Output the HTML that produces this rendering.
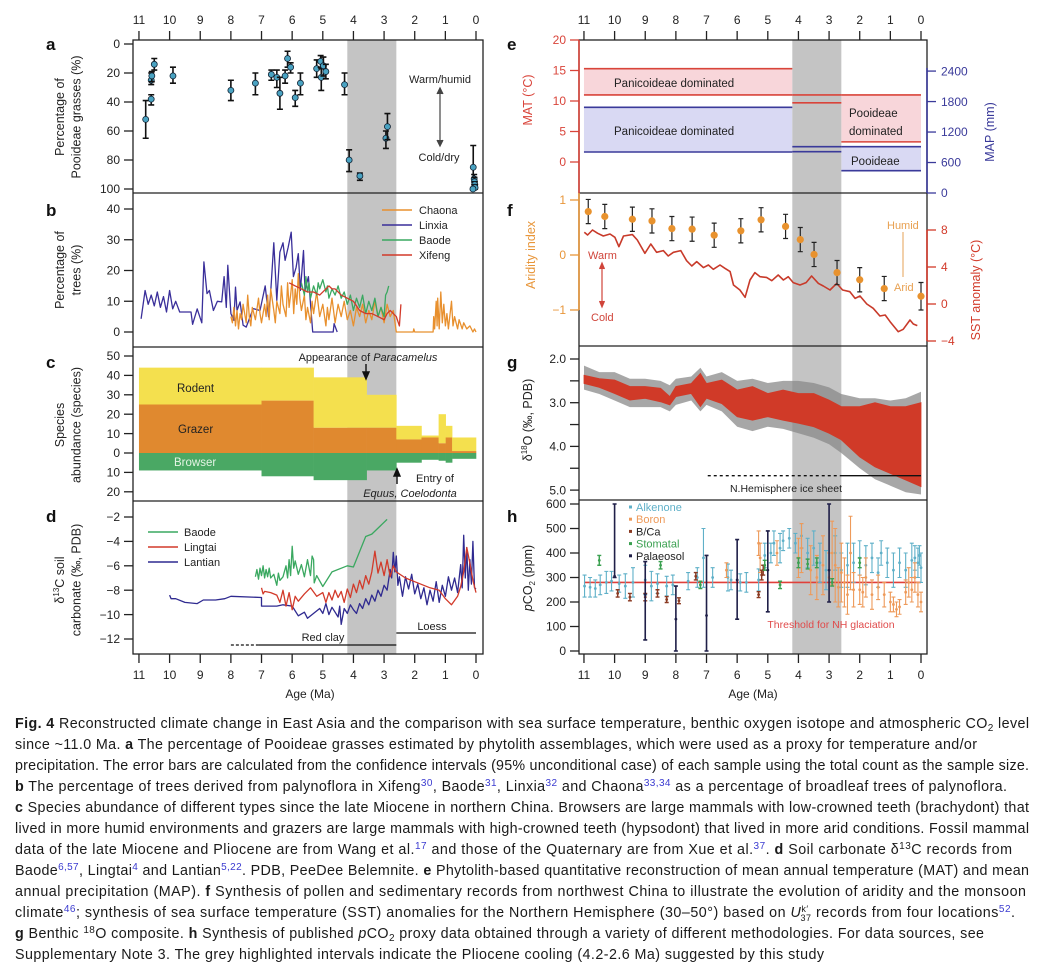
<!DOCTYPE html>
<html><head><meta charset="utf-8">
<style>
body{margin:0;background:#fff;}
svg{display:block;font-family:"Liberation Sans",sans-serif;}
.cap{font-size:14.3px;fill:#1a1a1a;}
.ref{fill:#3b3bd0;font-size:10px;}
</style></head>
<body>
<svg id="fig" width="1044" height="972" viewBox="0 0 1044 972">
<g id="chart"></g>
<g id="caption">
<text class="cap" x="15" y="728" textLength="1014" lengthAdjust="spacing"><tspan font-weight="bold">Fig. 4</tspan> Reconstructed climate change in East Asia and the comparison with sea surface temperature, benthic oxygen isotope and atmospheric CO<tspan font-size="10" dy="3">2</tspan><tspan dy="-3"> level</tspan></text>
<text class="cap" x="15" y="749" textLength="962" lengthAdjust="spacing">since ~11.0 Ma. <tspan font-weight="bold">a</tspan> The percentage of Pooideae grasses estimated by phytolith assemblages, which were used as a proxy for temperature and/or</text>
<text class="cap" x="15" y="770" textLength="1014" lengthAdjust="spacing">precipitation. The error bars are calculated from the confidence intervals (95% unconditional case) of each sample using the total count as the sample size.</text>
<text class="cap" x="15" y="791" textLength="992" lengthAdjust="spacing"><tspan font-weight="bold">b</tspan> The percentage of trees derived from palynoflora in Xifeng<tspan class="ref" dy="-5">30</tspan><tspan dy="5">, Baode</tspan><tspan class="ref" dy="-5">31</tspan><tspan dy="5">, Linxia</tspan><tspan class="ref" dy="-5">32</tspan><tspan dy="5"> and Chaona</tspan><tspan class="ref" dy="-5">33,34</tspan><tspan dy="5"> as a percentage of broadleaf trees of palynoflora.</tspan></text>
<text class="cap" x="15" y="812" textLength="1014" lengthAdjust="spacing"><tspan font-weight="bold">c</tspan> Species abundance of different types since the late Miocene in northern China. Browsers are large mammals with low-crowned teeth (brachydont) that</text>
<text class="cap" x="15" y="833" textLength="1014" lengthAdjust="spacing">lived in more humid environments and grazers are large mammals with high-crowned teeth (hypsodont) that lived in more arid conditions. Fossil mammal</text>
<text class="cap" x="15" y="854" textLength="997" lengthAdjust="spacing">data of the late Miocene and Pliocene are from Wang et al.<tspan class="ref" dy="-5">17</tspan><tspan dy="5"> and those of the Quaternary are from Xue et al.</tspan><tspan class="ref" dy="-5">37</tspan><tspan dy="5">. </tspan><tspan font-weight="bold">d</tspan> Soil carbonate δ<tspan font-size="10" dy="-5">13</tspan><tspan dy="5">C records from</tspan></text>
<text class="cap" x="15" y="875" textLength="1014" lengthAdjust="spacing">Baode<tspan class="ref" dy="-5">6,57</tspan><tspan dy="5">, Lingtai</tspan><tspan class="ref" dy="-5">4</tspan><tspan dy="5"> and Lantian</tspan><tspan class="ref" dy="-5">5,22</tspan><tspan dy="5">. PDB, PeeDee Belemnite. </tspan><tspan font-weight="bold">e</tspan> Phytolith-based quantitative reconstruction of mean annual temperature (MAT) and mean</text>
<text class="cap" x="15" y="896" textLength="1011" lengthAdjust="spacing">annual precipitation (MAP). <tspan font-weight="bold">f</tspan> Synthesis of pollen and sedimentary records from northwest China to illustrate the evolution of aridity and the monsoon</text>
<text class="cap" x="15" y="917" textLength="1000" lengthAdjust="spacing">climate<tspan class="ref" dy="-5">46</tspan><tspan dy="5">; synthesis of sea surface temperature (SST) anomalies for the Northern Hemisphere (30–50°) based on </tspan><tspan font-style="italic">U</tspan><tspan font-size="9" dy="-5">k′</tspan><tspan font-size="9" dx="-8" dy="9">37</tspan><tspan dy="-4"> records from four locations</tspan><tspan class="ref" dy="-5">52</tspan><tspan dy="5">.</tspan></text>
<text class="cap" x="15" y="938" textLength="969" lengthAdjust="spacing"><tspan font-weight="bold">g</tspan> Benthic <tspan font-size="10" dy="-5">18</tspan><tspan dy="5">O composite. </tspan><tspan font-weight="bold">h</tspan> Synthesis of published <tspan font-style="italic">p</tspan>CO<tspan font-size="10" dy="3">2</tspan><tspan dy="-3"> proxy data obtained through a variety of different methodologies. For data sources, see</tspan></text>
<text class="cap" x="15" y="959" textLength="809" lengthAdjust="spacing">Supplementary Note 3. The grey highlighted intervals indicate the Pliocene cooling (4.2-2.6 Ma) suggested by this study</text>
</g>
</svg>
<script>
// ---------------- DATA ----------------
// panel a: Pooideae %
const aAge=[10.78,10.6,10.6,10.58,10.5,9.89,8.0,7.2,6.68,6.5,6.4,6.23,6.15,6.05,5.9,5.73,5.2,5.07,5.05,4.98,4.9,4.29,4.14,3.79,2.94,2.89,0.09,0.06,0.05,0.04,0.03,0.1];
const aVal=[52,38,25,22,14,22,32,27,21,23,34,22,10,16,37,27,17,12,23,15,19,28,80,91,65,57,85,93,95,97,99,100];
const aLo=[39,35,20,19,10,16,25,20,18,18,23,18,5,13,32,20,11,8,17,9,14,20,73,89,60,48,70,90,92,95,97,99];
const aHi=[65,42,28,26,18,27,39,35,25,30,45,27,16,20,43,35,23,16,32,22,24,35,88,94,72,66,100,97,99,100,100,100];
// panel b: trees %
const linxiaAge=[10.93,10.8,10.7,10.6,10.5,10.4,10.3,10.2,10.1,10.0,9.9,9.8,9.67,9.3,9.25,9.1,8.95,8.88,8.78,8.7,8.57,8.44,8.3,8.22,8.15,8.1,8.0,7.9,7.85,7.8,7.7,7.6,7.5,7.27,7.05,6.88,6.77,6.7,6.6,6.5,6.4,6.3,6.23,6.13,6.03,5.96,5.87,5.8,5.73,5.63,5.58,5.47,5.4,5.33,4.66,4.63,4.53];
const linxiaVal=[4.3,13.5,9,12,8.5,13,8,11.5,6.5,13.5,7.5,10,6.5,6.5,2.5,7.5,3,22.8,12.5,13.5,7,10,9.8,18,8,21.7,6,3.8,14.6,7,9.8,2.2,1.6,7.6,7,15,4.9,13,29,10.3,26,29,23.3,27.6,32.5,18,21,25.5,13.5,26.5,13.5,18,9.2,0,0,2.7,0];
const chaonaAge=[8.0,7.95,7.9,7.85,7.8,7.75,7.7,7.65,7.6,7.5,7.45,7.4,7.35,7.3,7.2,7.1,7.05,7.0,6.9,6.85,6.8,6.75,6.7,6.6,6.55,6.5,6.4,6.35,6.3,6.2,6.15,6.1,6.05,6.0,5.95,5.9,5.85,5.8,5.75,5.7,5.6,5.55,5.5,5.4,5.35,5.3,5.2,5.1,5.0,4.9,4.85,4.8,4.7,4.6,4.5,4.4,4.3,4.2,4.1,4.0,3.9,3.8,3.7,3.6,3.5,3.4,3.3,3.2,3.1,3.0,2.9,2.8,2.7,2.6,2.05,2.03,2.0,1.4,1.38,1.35,1.3,1.27,1.25,1.2,1.15,1.1,1.05,1.0,0.95,0.9,0.8,0.75,0.7,0.6,0.55,0.45,0.4,0.3,0.2,0.1,0.05,0];
const chaonaVal=[5,3,8,2,7,1,6,4,9,3,12,5,2,8,4,11,6,3,9,5,12,4,14,7,3,10,6,15,9,5,16,8,12,17,6,14,9,19,11,7,12,4,8,3,10,6,13,5,9,2,8,4,11,3,9,5,10,4,7,2,8,5,9,3,7,4,10,5,8,3,9,5,7,0,0,1,0,0,5,1,10,2,11,1,13,3,9,2,6,1,10,2,5,1,4,1,3,1,2,0,1,0];
const baodeBAge=[5.7,5.6,5.55,5.5,5.45,5.4,5.3,5.2,5.15,5.1,5.0,4.9,4.85,4.8,4.7,4.6,4.5,4.4,4.3,4.2,4.1,4.0,3.9,3.8,3.7,3.6,3.5,3.4,3.3,3.2,3.1,3.0,2.95,2.9,2.85];
const baodeBVal=[16,12,18,13,16,11,15,12,16,14,17,13,15,11,14,12,15,11,13,9,12,7,11,8,12,6,10,7,11,5,8,5,12,13,15];
const xifengAge=[6.1,5.9,5.7,5.5,5.3,5.1,4.9,4.8,4.7,4.6,4.4,4.2,4.0,3.8,3.6,3.4,3.2,3.0,2.9,2.8,2.7,2.6,2.5,2.45];
const xifengVal=[16,15,14,13,13,12,14,15,14,14,12,11,10,7,6,6,5,4,6,7,6,5,2,9];
// panel c: species abundance per interval
const cStart=[11,7,5.3,3.57,2.6,1.78,1.22,0.99,0.78];
const cEnd=[7,5.3,3.57,2.6,1.78,1.22,0.99,0.78,0];
const cGrazer=[25,27,13,13,7,8,5,8,1];
const cRodent=[19,17,26,17,7,1,15,6,7];
const cBrowser=[9,12,14,9,5,3.5,4,5,3];
// panel d: d13C
const lantianAge=[10,9.95,9.8,9.5,9.1,8.9,8.5,8.2,8.0,7.0,7.0,6.5,6.3,6.0,5.8,5.6,5.5,5.3,5.1,5.0,4.9,4.8,4.7,4.6,4.5,4.45,4.4,4.3,4.2,4.1,4.0,3.9,3.8,3.7,3.6,3.5,3.4,3.3,3.2,3.1,3.0,2.9,2.8,2.75,2.7,2.65,2.6,2.55,2.5,2.4,2.3,2.2,2.1,2.0,1.9,1.8,1.7,1.6,1.5,1.4,1.3,1.2,1.1,1.0,0.9,0.8,0.7,0.6,0.5,0.45,0.4,0.35,0.3,0.25,0.2,0.15,0.1,0.05,0];
const lantianVal=[-8.4,-8.7,-8.7,-9.0,-9.1,-8.8,-8.8,-8.7,-8.5,-8.6,-9.3,-9.3,-9.2,-9.3,-10.1,-9.8,-10.3,-9.9,-9.5,-9.9,-9.1,-10.0,-9.4,-9.8,-10.2,-9.3,-10.8,-9.5,-9.9,-9.2,-9.6,-9.9,-9.1,-9.5,-8.7,-9.2,-8.4,-8.9,-8.0,-8.5,-7.6,-8.0,-6.3,-7.0,-4.9,-6.5,-5.2,-7.6,-6.9,-8.5,-6.9,-7.9,-6.7,-8.3,-7.5,-8.7,-7.8,-9.2,-8.0,-8.9,-7.3,-9.0,-7.6,-8.5,-6.9,-8.0,-7.0,-8.2,-5.9,-7.8,-3.5,-7.0,-4.5,-8.0,-5.5,-7.5,-4.0,-7.8,-7.9];
const lingtaiAge=[7.0,6.95,6.9,6.7,6.5,6.4,6.3,6.2,6.1,6.0,5.9,5.8,5.6,5.4,5.2,5.0,4.9,4.8,4.7,4.6,4.5,4.4,4.3,4.2,4.1,4.0,3.9,3.8,3.7,3.6,3.5,3.4,3.3,3.2,3.1,3.0,2.9,2.8,2.7,2.6,2.3,2.0,1.5,1.2,1.0,0.8,0.6,0.5,0.4,0.3,0.2,0.1,0];
const lingtaiVal=[-7.8,-8.3,-8.1,-8.2,-8.4,-9.0,-8.0,-9.3,-8.2,-9.6,-8.5,-8.9,-8.3,-7.8,-8.5,-8.2,-9.0,-8.2,-8.8,-8.0,-8.6,-8.1,-9.0,-7.9,-8.6,-7.5,-8.2,-7.2,-7.9,-6.8,-7.5,-6.5,-4.8,-6.6,-5.7,-6.8,-5.5,-6.9,-6.0,-6.5,-7.0,-7.3,-7.8,-8.0,-8.7,-9.2,-8.5,-7.7,-6.5,-4.5,-5.8,-7.2,-8.2];
const baodeDAge=[7.2,7.15,7.1,7.05,7.0,6.95,6.9,6.85,6.8,6.75,6.7,6.6,6.5,6.45,6.4,6.3,6.2,6.15,6.1,6.05,6.0,5.95,5.9,5.8,5.7,5.6,5.5,5.4,5.35,5.3,5.28,5.2,5.0,4.7,4.2,4.0,3.6,3.4,2.9];
const baodeDVal=[-6.9,-6.3,-7.1,-6.2,-6.8,-6.0,-7.0,-6.3,-6.9,-6.2,-7.0,-6.7,-7.6,-6.6,-7.2,-6.9,-6.0,-7.0,-5.5,-6.8,-4.4,-6.2,-5.6,-6.7,-5.9,-6.9,-5.5,-6.8,-5.2,-5.5,-7.4,-6.8,-7.7,-6.5,-6.0,-6.1,-3.6,-3.4,-2.2];
// panel e: MAT / MAP periods
const ePeriodStart=[11,4.2,2.6];
const ePeriodEnd=[4.2,2.6,0];
const eMatLo=[11,9.7,3.3];
const eMatHi=[15.3,11,11];
const eMapLo=[807,813,439];
const eMapHi=[1687,911,911];
// panel f: aridity index & SST anomaly
const fAridAge=[10.86,10.32,9.42,8.78,8.13,7.47,6.75,5.88,5.22,4.42,3.94,3.49,2.74,2.0,1.2,0];
const fAridVal=[0.79,0.70,0.65,0.62,0.48,0.47,0.36,0.44,0.64,0.52,0.28,0.01,-0.32,-0.45,-0.61,-0.75];
const fAridErr=[0.22,0.22,0.22,0.22,0.22,0.22,0.22,0.22,0.22,0.22,0.22,0.22,0.22,0.22,0.22,0.25];
const sstAge=[10.99,10.88,10.72,10.55,10.37,10.15,9.99,9.86,9.71,9.42,9.26,9.01,8.82,8.63,8.41,8.25,8.08,7.84,7.65,7.48,7.32,7.1,6.94,6.78,6.56,6.4,6.23,6.12,5.91,5.74,5.58,5.42,5.25,5.04,4.87,4.66,4.49,4.33,4.17,3.95,3.75,3.57,3.35,3.19,2.97,2.75,2.56,2.32,2.15,1.99,1.77,1.56,1.34,1.17,1.01,0.74,0.58,0.36,0.25,0.12];
const sstVal=[7.75,7.46,8.0,7.64,7.35,7.57,7.21,6.2,7.35,7.5,6.92,5.48,6.49,5.59,5.77,5.19,5.59,5.77,4.68,4.11,4.58,3.93,4.22,3.75,4.22,3.86,3.5,2.05,1.51,0.72,2.59,3.39,2.95,2.88,2.52,3.14,2.59,2.95,2.31,2.05,2.31,3.03,2.23,1.95,1.51,2.23,1.51,1.33,0.61,0.86,0,-0.47,-1.3,-1.19,-1.91,-2.99,-2.74,-1.73,-2.16,-2.34];
// panel g: benthic d18O envelopes
const gAge=[11,10.5,10,9.5,9,8.5,8.2,8,7.5,7.2,7,6.5,6,5.5,5,4.5,4,3.5,3,2.6,2,1.5,1,0.5,0];
const gRedLo=[2.37,2.45,2.48,2.63,2.63,2.67,2.86,2.63,2.56,2.33,2.56,2.48,2.71,2.63,2.79,2.71,2.79,2.79,2.94,3.09,3.09,3.0,3.09,3.09,3.0];
const gRedHi=[2.56,2.65,2.79,2.94,2.9,2.98,3.05,2.86,2.79,3.09,2.9,3.02,3.32,3.4,3.32,3.4,3.47,3.55,3.7,3.85,4.24,4.47,4.62,4.77,4.92];
const gGreyLo=[2.15,2.3,2.3,2.45,2.45,2.5,2.6,2.45,2.4,2.2,2.4,2.3,2.5,2.45,2.55,2.5,2.5,2.55,2.65,2.8,2.9,2.9,2.95,2.9,2.75];
const gGreyHi=[2.7,2.8,2.95,3.1,3.1,3.1,3.2,3.05,2.95,3.2,3.05,3.2,3.55,3.65,3.55,3.6,3.7,3.8,3.95,4.15,4.5,4.75,4.9,5.05,5.1];
// panel h: pCO2 proxies
const alkAge=[10.98,10.8,10.63,10.47,10.27,10.1,9.85,9.65,9.4,9.0,8.8,8.6,8.3,8.1,7.6,7.3,7.1,6.8,6.3,6.2,5.9,5.7,5.3,5.1,4.9,4.8,4.6,4.5,4.3,4.1,3.9,3.7,3.5,3.3,3.1,2.8,2.6,2.4,2.2,2.0,1.8,1.6,1.4,1.3,1.1,0.9,0.7,0.5,0.3,0.2,0.1,0.05,0];
const alkVal=[265,260,255,270,280,285,275,265,280,290,265,275,265,270,285,300,380,300,300,290,280,280,290,390,400,440,420,450,460,440,470,400,420,360,330,400,330,350,360,380,350,380,320,400,360,330,360,330,370,380,360,390,340];
const alkErr=[45,40,35,40,45,40,35,50,60,60,60,40,40,40,35,40,120,40,55,40,35,40,45,50,40,50,60,40,40,40,50,60,70,80,80,70,70,90,80,70,80,60,60,50,60,70,60,70,70,50,60,40,60];
const boronAge=[6.35,5.3,5.25,4.7,4.0,3.9,3.6,3.4,3.2,3.0,2.9,2.8,2.7,2.6,2.5,2.4,2.3,2.2,2.0,1.9,1.8,1.6,1.4,1.2,1.0,0.9,0.8,0.7,0.5,0.4,0.3,0.2,0.1,0];
const boronVal=[330,440,380,400,380,420,330,300,350,300,400,350,260,320,280,230,400,250,250,240,300,230,260,230,200,190,170,180,240,280,250,300,230,200];
const boronErr=[30,50,60,50,80,100,100,90,120,100,130,150,80,120,100,80,150,70,60,60,80,60,50,50,40,30,30,30,50,60,50,60,50,40];
const bcaAge=[9.9,9.5,9.0,8.6,8.3,7.9,7.35,5.3,5.2,5.15];
const bcaVal=[235,220,220,235,210,205,305,230,310,330];
const bcaErr=[15,15,15,15,12,12,15,12,20,20];
const stomAge=[10.5,8.5,7.2,5.1,4.6,4.0,3.7,3.4,2.9,2.0];
const stomVal=[370,350,270,350,270,360,355,360,280,360];
const stomErr=[20,15,15,20,15,20,20,20,15,20];
const palAge=[10.0,9.0,8.0,7.0,6.0,5.0,3.0];
const palVal=[305,230,130,145,290,330,330];
const palLo=[300,45,0,0,130,160,200];
const palHi=[600,365,265,390,455,490,600];
const co2Threshold=[280];
const ageTicks=[0,1,2,3,4,5,6,7,8,9,10,11];

// ---------------- SCALES ----------------
const xL=a=>476-a*30.64, xR=a=>921-a*30.64;
const yA=v=>44+v*1.45;
const yB=v=>332-v*3.075;
const yC=v=>453-v*1.94;
const yD=v=>517+(-2-v)*12.2;
const yET=t=>162-t*6.1, yEP=p=>193-p*0.0508;
const yFA=a=>255-a*55, yFS=s=>304-s*9.25;
const yG=v=>359+(v-2)*43.7;
const yH=v=>651-v*0.245;

const NS='http://www.w3.org/2000/svg';
const root=document.getElementById('chart');
function mk(tag,attrs){const e=document.createElementNS(NS,tag);for(const k in attrs)e.setAttribute(k,attrs[k]);root.appendChild(e);return e;}
function tx(str,attrs){const e=mk('text',attrs);e.textContent=str;return e;}
function lineD(ages,vals,xf,yf){return ages.map((a,i)=>(i?'L':'M')+xf(a).toFixed(1)+','+yf(vals[i]).toFixed(1)).join('');}
function bandD(ages,lo,hi,xf,yf){let d=ages.map((a,i)=>(i?'L':'M')+xf(a).toFixed(1)+','+yf(hi[i]).toFixed(1)).join('');for(let i=ages.length-1;i>=0;i--)d+='L'+xf(ages[i]).toFixed(1)+','+yf(lo[i]).toFixed(1);return d+'Z';}
let el;

// ---------- panel e fills (under grey) ----------
for(let i=0;i<ePeriodStart.length;i++){
  el=mk('rect',{x:xR(ePeriodStart[i]),y:yET(eMatHi[i]),width:xR(ePeriodEnd[i])-xR(ePeriodStart[i]),height:yET(eMatLo[i])-yET(eMatHi[i]),fill:'#f8d6da'});
  
  
  el=mk('rect',{x:xR(ePeriodStart[i]),y:yEP(eMapHi[i]),width:xR(ePeriodEnd[i])-xR(ePeriodStart[i]),height:yEP(eMapLo[i])-yEP(eMapHi[i]),fill:'#d9d9f3'});
  
  
}

// ---------- grey Pliocene cooling bands ----------
el=mk('rect',{x:xL(4.2),y:40,width:xL(2.6)-xL(4.2),height:614,fill:'#c4c4c4'});


el=mk('rect',{x:xR(4.2),y:40,width:xR(2.6)-xR(4.2),height:614,fill:'#c4c4c4'});



// ---------- panel e lines & labels ----------
for(let i=0;i<ePeriodStart.length;i++){
  const x1=xR(ePeriodStart[i]),x2=xR(ePeriodEnd[i]);
  [eMatLo[i],eMatHi[i]].forEach(v=>{
    el=mk('line',{x1:x1,x2:x2,y1:yET(v),y2:yET(v),stroke:'#d9443a','stroke-width':1.6});
    
    
  });
  [eMapLo[i],eMapHi[i]].forEach(v=>{
    el=mk('line',{x1:x1,x2:x2,y1:yEP(v),y2:yEP(v),stroke:'#3a3a9a','stroke-width':1.6});
    
    
  });
}
[['Panicoideae dominated',614,87],['Panicoideae dominated',614,135],['Pooideae',849,117],['dominated',849,135],['Pooideae',851,165]].forEach(t=>{
  el=tx(t[0],{x:t[1],y:t[2],'font-size':11.5,fill:'#222'});
  
  
});

// ---------- panel a ----------
aAge.forEach((a,i)=>{
  const x=xL(a);
  el=mk('path',{d:`M${x},${yA(aLo[i])}V${yA(aHi[i])}M${x-3},${yA(aLo[i])}h6M${x-3},${yA(aHi[i])}h6`,stroke:'#111','stroke-width':1.6,fill:'none'});
  
  
  el=mk('circle',{cx:x,cy:yA(aVal[i]),r:3,fill:'#4aa3c2',stroke:'#123',"stroke-width":0.8});
  
  
});
el=tx('Warm/humid',{x:440,y:83,'font-size':11,'text-anchor':'middle',fill:'#222'});


el=tx('Cold/dry',{x:439,y:161,'font-size':11,'text-anchor':'middle',fill:'#222'});


el=mk('path',{d:'M440,90V144M437,94L440,88L443,94M437,140L440,146L443,140',stroke:'#444','stroke-width':1.2,fill:'#444'});



// ---------- panel b ----------
[[linxiaAge,linxiaVal,'#3a2f9a','linxia-line'],[chaonaAge,chaonaVal,'#e8902e','chaona-line'],[baodeBAge,baodeBVal,'#3aa860','baode-tree-line'],[xifengAge,xifengVal,'#d23a2a','xifeng-line']].forEach(s=>{
  el=mk('path',{d:lineD(s[0],s[1],xL,yB),stroke:s[2],'stroke-width':1.3,fill:'none','stroke-linejoin':'round'});
  
  
});
[['Chaona','#e8902e'],['Linxia','#3a2f9a'],['Baode','#3aa860'],['Xifeng','#d23a2a']].forEach((s,i)=>{
  const y=210+i*15;
  el=mk('line',{x1:382,x2:412,y1:y,y2:y,stroke:s[1],'stroke-width':1.5});
  
  
  el=tx(s[0],{x:419,y:y+4,'font-size':11,fill:'#222'});
  
  
});

// ---------- panel c ----------
for(let i=0;i<cStart.length;i++){
  const x1=xL(cStart[i]),w=xL(cEnd[i])-x1+0.3;
  el=mk('rect',{x:x1,y:yC(cGrazer[i]+cRodent[i]),width:w,height:cRodent[i]*1.94,fill:'#f4e04e'});
  
  
  el=mk('rect',{x:x1,y:yC(cGrazer[i]),width:w,height:cGrazer[i]*1.94,fill:'#e0892f'});
  
  
  el=mk('rect',{x:x1,y:yC(0),width:w,height:cBrowser[i]*1.94,fill:'#4aa864'});
  
  
}
[['Rodent',177,392,'#222'],['Grazer',178,433,'#222'],['Browser',174,466,'#e4f4e4']].forEach(t=>{
  el=tx(t[0],{x:t[1],y:t[2],'font-size':11.5,fill:t[3]});
  
  
});
el=mk('text',{x:368,y:361,'font-size':11,'text-anchor':'middle',fill:'#222'});
el.innerHTML='Appearance of <tspan font-style="italic">Paracamelus</tspan>';


el=mk('path',{d:'M366,364V376M363,372L366,379L369,372Z',stroke:'#111','stroke-width':1.4,fill:'#111'});


el=tx('Entry of',{x:435,y:482,'font-size':11,'text-anchor':'middle',fill:'#222'});


el=tx('Equus, Coelodonta',{x:410,y:497,'font-size':11,'text-anchor':'middle','font-style':'italic',fill:'#222'});


el=mk('path',{d:'M397,484V472M394,476L397,469L400,476Z',stroke:'#111','stroke-width':1.4,fill:'#111'});



// ---------- panel d ----------
[[lantianAge,lantianVal,'#2f2a90','lantian-line'],[lingtaiAge,lingtaiVal,'#d23a2a','lingtai-line'],[baodeDAge,baodeDVal,'#3aa860','baode-d13c-line']].forEach(s=>{
  el=mk('path',{d:lineD(s[0],s[1],xL,yD),stroke:s[2],'stroke-width':1.3,fill:'none','stroke-linejoin':'round'});
  
  
});
[['Baode','#3aa860'],['Lingtai','#d23a2a'],['Lantian','#2f2a90']].forEach((s,i)=>{
  const y=532+i*15;
  el=mk('line',{x1:148,x2:178,y1:y,y2:y,stroke:s[1],'stroke-width':1.5});
  
  
  el=tx(s[0],{x:184,y:y+4,'font-size':11,fill:'#222'});
  
  
});
el=mk('line',{x1:xL(8),x2:xL(7.1),y1:645,y2:645,stroke:'#111','stroke-width':1.3,'stroke-dasharray':'3,2'});


el=mk('line',{x1:xL(7.1),x2:xL(2.6),y1:645,y2:645,stroke:'#111','stroke-width':1.3});


el=mk('line',{x1:xL(2.6),x2:xL(0),y1:633,y2:633,stroke:'#111','stroke-width':1.3});


el=tx('Red clay',{x:323,y:641,'font-size':11,'text-anchor':'middle',fill:'#222'});


el=tx('Loess',{x:432,y:630,'font-size':11,'text-anchor':'middle',fill:'#222'});



// ---------- panel f ----------
el=mk('path',{d:lineD(sstAge,sstVal,xR,yFS),stroke:'#c83a2a','stroke-width':1.6,fill:'none','stroke-linejoin':'round'});


fAridAge.forEach((a,i)=>{
  const x=xR(a),lo=yFA(fAridVal[i]-fAridErr[i]),hi=yFA(fAridVal[i]+fAridErr[i]);
  el=mk('path',{d:`M${x},${lo}V${hi}M${x-2.5},${lo}h5M${x-2.5},${hi}h5`,stroke:'#222','stroke-width':1.2,fill:'none'});
  
  
  el=mk('circle',{cx:x,cy:yFA(fAridVal[i]),r:3.6,fill:'#e8922e'});
  
  
});
el=tx('Warm',{x:588,y:259,'font-size':11,fill:'#d0443a'});


el=tx('Cold',{x:591,y:321,'font-size':11,fill:'#d0443a'});


el=mk('path',{d:'M602,265V305M599.5,269L602,263L604.5,269M599.5,301L602,307L604.5,301',stroke:'#d0443a','stroke-width':1.2,fill:'#d0443a'});


el=tx('Humid',{x:887,y:229,'font-size':11,fill:'#e8a050'});


el=tx('Arid',{x:894,y:291,'font-size':11,fill:'#e8a050'});


el=mk('line',{x1:903,x2:903,y1:232,y2:277,stroke:'#e8b070','stroke-width':1.2});



// ---------- panel g ----------
el=mk('path',{d:bandD(gAge,gGreyLo,gGreyHi,xR,yG),fill:'#8a8a8a','fill-opacity':0.75});


el=mk('path',{d:bandD(gAge,gRedLo,gRedHi,xR,yG),fill:'#d03a28',stroke:'#d03a28','stroke-width':0.8});


el=mk('line',{x1:xR(6.96),x2:xR(2.65),y1:yG(4.67),y2:yG(4.67),stroke:'#111','stroke-width':1.3,'stroke-dasharray':'3,3'});


el=mk('line',{x1:xR(2.65),x2:xR(0),y1:yG(4.67),y2:yG(4.67),stroke:'#111','stroke-width':1.3});


el=tx('N.Hemisphere ice sheet',{x:786,y:492,'font-size':10.5,'text-anchor':'middle',fill:'#222'});



// ---------- panel h ----------
el=mk('line',{x1:xR(11),x2:xR(0),y1:yH(co2Threshold[0]),y2:yH(co2Threshold[0]),stroke:'#e0403a','stroke-width':1.6});


function errSeries(ages,vals,lo,hi,color,name,w){
  ages.forEach((a,i)=>{
    const x=xR(a);
    el=mk('path',{d:`M${x},${yH(lo[i])}V${yH(hi[i])}M${x-2},${yH(lo[i])}h4M${x-2},${yH(hi[i])}h4`,stroke:color,'stroke-width':w,fill:'none'});
    
    
    el=mk('circle',{cx:x,cy:yH(vals[i]),r:1.4,fill:color});
    
    
  });
}
errSeries(alkAge,alkVal,alkVal.map((v,i)=>v-alkErr[i]),alkVal.map((v,i)=>v+alkErr[i]),'#5fb0c8','alkenone',1.1);
errSeries(boronAge,boronVal,boronVal.map((v,i)=>v-boronErr[i]),boronVal.map((v,i)=>v+boronErr[i]),'#ee9a5a','boron',1.1);
errSeries(bcaAge,bcaVal,bcaVal.map((v,i)=>v-bcaErr[i]),bcaVal.map((v,i)=>v+bcaErr[i]),'#8a3a22','bca',1.4);
errSeries(stomAge,stomVal,stomVal.map((v,i)=>v-stomErr[i]),stomVal.map((v,i)=>v+stomErr[i]),'#3aa050','stomatal',1.4);
errSeries(palAge,palVal,palLo,palHi,'#1f1f48','palaeosol',1.6);
[['Alkenone','#5fb0c8'],['Boron','#ee9a5a'],['B/Ca','#8a3a22'],['Stomatal','#3aa050'],['Palaeosol','#1f1f48']].forEach((s,i)=>{
  const y=507+i*12.2;
  el=mk('rect',{x:629,y:y-1.5,width:3,height:3,fill:s[1]});
  
  
  el=tx(s[0],{x:636,y:y+4,'font-size':11,fill:s[0]==='B/Ca'||s[0]==='Palaeosol'?'#222':s[1]});
  
  
});
el=tx('Threshold for NH glaciation',{x:831,y:628,'font-size':10.5,'text-anchor':'middle',fill:'#e04a4a'});



// ---------- boxes / separators ----------
[[133,483],[579,927]].forEach(b=>{
  el=mk('rect',{x:b[0],y:40,width:b[1]-b[0],height:614,fill:'none',stroke:'#222','stroke-width':1.3});
  
  
});
[[133,483,193],[133,483,347],[133,483,501],[579,927,193],[579,927,346],[579,927,500]].forEach(s=>{
  el=mk('line',{x1:s[0],x2:s[1],y1:s[2],y2:s[2],stroke:'#222','stroke-width':1.3});
  
  
});
// coloured axis lines on right column
[[579,40,193,'#d9443a'],[927,68,193,'#3a3a9a'],[579,193,310,'#e8963a'],[927,230,341,'#d23a2a']].forEach(s=>{
  el=mk('line',{x1:s[0],x2:s[0],y1:s[1],y2:s[2],stroke:s[3],'stroke-width':1.6});
  
  
});

// ---------- x axes ----------
[[xL,'left'],[xR,'right']].forEach(ax=>{
  ageTicks.forEach(t=>{
    const x=ax[0](t);
    el=mk('line',{x1:x,x2:x,y1:31,y2:40,stroke:'#222','stroke-width':1.3});
    
    
    el=tx(String(t),{x:x,y:24,'font-size':12,'text-anchor':'middle',fill:'#222'});
    
    
    el=mk('line',{x1:x,x2:x,y1:654,y2:663,stroke:'#222','stroke-width':1.3});
    
    
    el=tx(String(t),{x:x,y:679,'font-size':12,'text-anchor':'middle',fill:'#222'});
    
    
  });
});
el=tx('Age (Ma)',{x:310,y:698,'font-size':12,'text-anchor':'middle',fill:'#222'});


el=tx('Age (Ma)',{x:753,y:698,'font-size':12,'text-anchor':'middle',fill:'#222'});



// ---------- y axes ----------
function yAxis(vals,labels,yf,side,x0,color,name){
  vals.forEach((v,i)=>{
    const y=yf(v);
    const x1=side==='L'?x0-9:x0, x2=side==='L'?x0:x0+9;
    el=mk('line',{x1:x1,x2:x2,y1:y,y2:y,stroke:color,'stroke-width':1.3});
    
    
    if(labels[i]!==''){
      el=tx(labels[i],{x:side==='L'?x0-13:x0+14,y:y+4.2,'font-size':12,'text-anchor':side==='L'?'end':'start',fill:color});
      
      
    }
  });
}
yAxis([0,20,40,60,80,100],['0','20','40','60','80','100'],yA,'L',133,'#222','pooideae-y');
yAxis([0,10,20,30,40],['0','10','20','30','40'],yB,'L',133,'#222','trees-y');
yAxis([50,40,30,20,10,0,-10,-20],['50','40','30','20','10','0','10','20'],yC,'L',133,'#222','species-y');
yAxis([-2,-4,-6,-8,-10,-12],['−2','−4','−6','−8','−10','−12'],yD,'L',133,'#222','d13c-y');
yAxis([0,5,10,15,20],['0','5','10','15','20'],yET,'L',579,'#d9443a','mat-y');
yAxis([0,600,1200,1800,2400],['0','600','1200','1800','2400'],yEP,'R',927,'#3a3a9a','map-y');
yAxis([1,0,-1],['1','0','−1'],yFA,'L',579,'#e8963a','aridity-y');
yAxis([8,4,0,-4],['8','4','0','−4'],yFS,'R',927,'#d23a2a','sst-y');
yAxis([2,2.5,3,3.5,4,4.5,5],['2.0','','3.0','','4.0','','5.0'],yG,'L',579,'#222','d18o-y');
yAxis([0,100,200,300,400,500,600],['0','100','200','300','400','500','600'],yH,'L',579,'#222','pco2-y');

// axis titles
function vtitle(lines,x,y,color,name,dx){
  el=mk('text',{transform:`translate(${x},${y}) rotate(-90)`,'font-size':12.5,'text-anchor':'middle',fill:color});
  el.innerHTML=lines;
  
  
}
vtitle('<tspan x="0" dy="0">Percentage of</tspan><tspan x="0" dy="16.5">Pooideae grasses (%)</tspan>',64,117,'#222','y-title-a');
vtitle('<tspan x="0" dy="0">Percentage of</tspan><tspan x="0" dy="16.5">trees (%)</tspan>',64,270,'#222','y-title-b');
vtitle('<tspan x="0" dy="0">Species</tspan><tspan x="0" dy="16.5">abundance (species)</tspan>',64,425,'#222','y-title-c');
vtitle('<tspan x="0" dy="0">δ<tspan font-size="8" dy="-5">13</tspan><tspan dy="5">C soil</tspan></tspan><tspan x="0" dy="16.5">carbonate (‰, PDB)</tspan>',64,580,'#222','y-title-d');
vtitle('MAT (°C)',532,100,'#d9443a','y-title-mat');
vtitle('MAP (mm)',994,132,'#3a3a9a','y-title-map');
vtitle('Aridity index',535,255,'#e8963a','y-title-aridity');
vtitle('SST anomaly (°C)',980,290,'#d23a2a','y-title-sst');
vtitle('δ<tspan font-size="8" dy="-5">18</tspan><tspan dy="5">O (‰, PDB)</tspan>',532,420,'#222','y-title-d18o');
vtitle('<tspan font-style="italic">p</tspan>CO<tspan font-size="8" dy="3">2</tspan><tspan dy="-3"> (ppm)</tspan>',532,578,'#222','y-title-pco2');

// panel letters
[['a',46,50],['b',46,216],['c',46,368],['d',46,522],['e',507,50],['f',507,216],['g',507,368],['h',507,522]].forEach(p=>{
  el=tx(p[0],{x:p[1],y:p[2],'font-size':17,'font-weight':'bold',fill:'#111'});
  
  
});
</script>
</body></html>
